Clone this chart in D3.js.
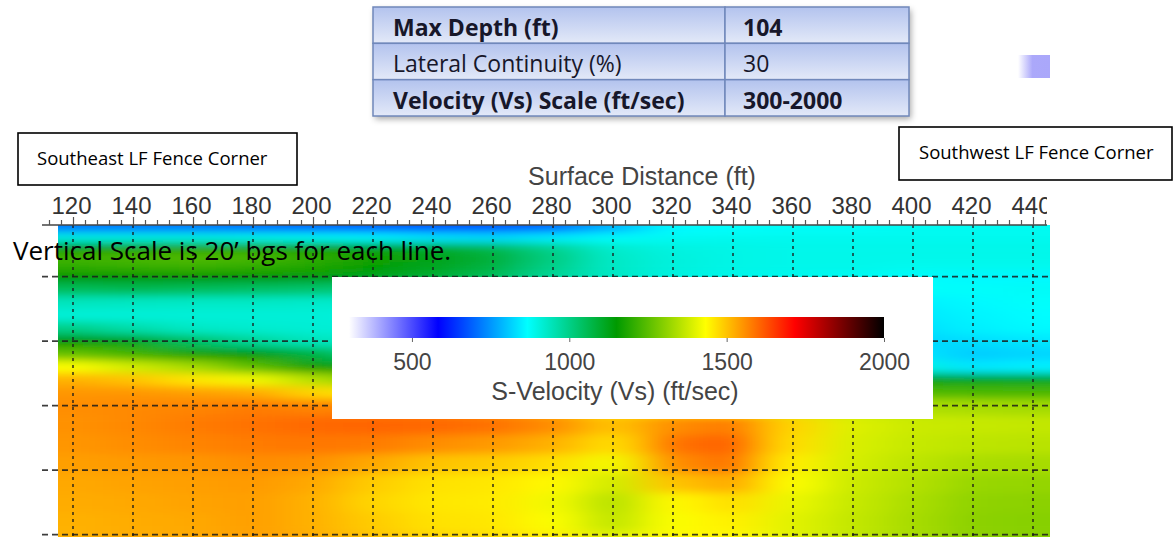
<!DOCTYPE html>
<html>
<head>
<meta charset="utf-8">
<script src="https://cdn.jsdelivr.net/npm/d3@7"></script>
<style>
  html, body { margin: 0; padding: 0; background: #fff; }
  svg { display: block; }
</style>
</head>
<body>
<div id="chart"></div>
<script>
// ---------- data ----------
var distanceTicks = [120, 140, 160, 180, 200, 220, 240, 260, 280, 300, 320, 340, 360, 380, 400, 420, 440];
var depthLines = [20, 40, 60, 80, 100];
var legendTicks = [500, 1000, 1500, 2000];
var colorStops = [300, 583, 867, 1150, 1433, 1717, 2000];
var colorRamp = ["#ffffff", "#0000ff", "#00ffff", "#009a00", "#ffff00", "#ff0000", "#000000"];

var tableLabels = ["Max Depth (ft)", "Lateral Continuity (%)", "Velocity (Vs) Scale (ft/sec)"];
var tableValues = ["104", "30", "300-2000"];
var tableBold = [true, false, true];

// velocity model: columns = distance (ft), rows = depth (ft)
var gridDistance = [120, 140, 160, 180, 200, 220, 240, 260, 280, 300, 320, 340, 360, 380, 400, 420, 440];
var gridDepth = [5, 8, 11, 14, 17, 20, 24, 28, 32, 36, 40, 44, 48, 52, 56, 60, 66, 72, 78, 84, 90, 96, 102];
var velocity = [
  [720, 720, 720, 710, 700, 690, 680, 680, 700, 780, 860, 870, 875, 875, 880, 880, 880],
  [900, 900, 900, 890, 880, 860, 840, 830, 850, 870, 880, 885, 885, 885, 885, 885, 885],
  [1150, 1160, 1170, 1170, 1160, 1140, 1100, 1060, 990, 920, 900, 895, 890, 890, 890, 890, 890],
  [1220, 1230, 1240, 1230, 1200, 1170, 1130, 1090, 1010, 930, 905, 895, 890, 890, 890, 890, 890],
  [1200, 1210, 1215, 1200, 1180, 1155, 1120, 1080, 1000, 930, 905, 895, 890, 890, 885, 885, 885],
  [1150, 1150, 1150, 1150, 1140, 1120, 1090, 1050, 980, 930, 900, 890, 885, 880, 870, 860, 860],
  [1050, 1060, 1050, 1040, 1030, 1010, 990, 970, 950, 930, 910, 900, 890, 880, 870, 870, 875],
  [940, 935, 930, 930, 925, 920, 915, 910, 900, 890, 880, 870, 860, 855, 850, 860, 870],
  [910, 910, 910, 910, 910, 905, 900, 895, 890, 880, 870, 860, 850, 845, 840, 855, 865],
  [1000, 960, 930, 920, 915, 910, 905, 900, 890, 880, 870, 855, 845, 835, 830, 850, 860],
  [1150, 1120, 1040, 980, 940, 930, 920, 910, 900, 890, 870, 855, 840, 830, 820, 830, 840],
  [1260, 1220, 1170, 1150, 1080, 1000, 960, 940, 920, 905, 890, 880, 870, 860, 840, 810, 820],
  [1430, 1380, 1330, 1250, 1160, 1140, 1120, 1100, 1080, 1040, 1000, 980, 960, 940, 900, 840, 850],
  [1520, 1500, 1460, 1420, 1350, 1280, 1250, 1230, 1220, 1200, 1180, 1170, 1160, 1150, 1130, 1120, 1110],
  [1550, 1550, 1540, 1530, 1480, 1450, 1420, 1400, 1380, 1340, 1320, 1300, 1280, 1260, 1240, 1230, 1230],
  [1560, 1565, 1570, 1580, 1570, 1570, 1560, 1540, 1510, 1450, 1450, 1430, 1360, 1345, 1340, 1335, 1330],
  [1555, 1565, 1580, 1590, 1600, 1605, 1600, 1590, 1560, 1500, 1560, 1580, 1480, 1395, 1375, 1370, 1365],
  [1550, 1560, 1570, 1580, 1585, 1580, 1560, 1545, 1520, 1470, 1590, 1610, 1470, 1390, 1370, 1360, 1355],
  [1540, 1545, 1550, 1560, 1555, 1530, 1500, 1490, 1470, 1420, 1560, 1590, 1450, 1385, 1360, 1340, 1335],
  [1530, 1535, 1540, 1545, 1530, 1490, 1465, 1460, 1440, 1380, 1500, 1530, 1430, 1375, 1350, 1320, 1315],
  [1525, 1530, 1535, 1540, 1520, 1480, 1460, 1455, 1420, 1350, 1440, 1470, 1410, 1370, 1340, 1310, 1305],
  [1520, 1525, 1530, 1540, 1520, 1490, 1465, 1460, 1430, 1360, 1430, 1450, 1400, 1365, 1335, 1305, 1300],
  [1520, 1525, 1530, 1540, 1525, 1500, 1480, 1470, 1450, 1400, 1440, 1440, 1400, 1365, 1335, 1305, 1300]
];

// ---------- chart ----------
var w = 1173, h = 537;
var plotLeft = 58, plotRight = 1050, plotTop = 225, plotBottom = 548;

var svg = d3.select("#chart").append("svg").attr("width", w).attr("height", h);
var defs = svg.append("defs");

var x = d3.scaleLinear().domain([120, 440]).range([73, 1033]);
var y = d3.scaleLinear().domain([4, 104]).range([225, 547.5]);
var color = d3.scaleLinear().domain(colorStops).range(colorRamp).clamp(true);

defs.append("clipPath").attr("id", "plotClip")
    .append("rect").attr("x", plotLeft).attr("y", plotTop)
    .attr("width", plotRight - plotLeft).attr("height", plotBottom - plotTop);
defs.append("clipPath").attr("id", "axisClip")
    .append("rect").attr("x", 0).attr("y", 195).attr("width", 1047).attr("height", h);

var smooth = defs.append("filter").attr("id", "smooth")
    .attr("filterUnits", "userSpaceOnUse")
    .attr("x", -300).attr("y", 100).attr("width", 1700).attr("height", 600);
smooth.append("feGaussianBlur").attr("stdDeviation", "22 4");

// cell edges half way between the grid nodes, outer ones pushed past the clip
function edges(c, pad) {
    var e = [c[0] - pad];
    for (var i = 1; i < c.length; i++) e.push((c[i - 1] + c[i]) / 2);
    e.push(c[c.length - 1] + pad);
    return e;
}
var xEdges = edges(gridDistance, 40);
var dEdges = edges(gridDepth, 15);

var cells = [];
velocity.forEach(function(row, i) {
    row.forEach(function(v, j) {
        cells.push({ i: i, j: j, v: v });
    });
});

var field = svg.append("g").attr("clip-path", "url(#plotClip)")
    .append("g").attr("filter", "url(#smooth)");
field.selectAll("rect")
    .data(cells)
    .enter()
    .append("rect")
    .attr("x", function(d) { return x(xEdges[d.j]); })
    .attr("y", function(d) { return y(dEdges[d.i]); })
    .attr("width", function(d) { return x(xEdges[d.j + 1]) - x(xEdges[d.j]) + 0.5; })
    .attr("height", function(d) { return y(dEdges[d.i + 1]) - y(dEdges[d.i]) + 0.5; })
    .attr("fill", function(d) { return color(d.v); });

// dashed grid
var grid = svg.append("g");
grid.selectAll(".vline")
    .data(distanceTicks)
    .enter()
    .append("line")
    .attr("x1", function(d) { return x(d); })
    .attr("x2", function(d) { return x(d); })
    .attr("y1", plotTop)
    .attr("y2", plotBottom)
    .attr("stroke", "#1c1c1c")
    .attr("stroke-width", 1.6)
    .attr("stroke-dasharray", "3,4")
    .attr("opacity", 0.85);
grid.selectAll(".hline")
    .data(depthLines)
    .enter()
    .append("line")
    .attr("x1", 42)
    .attr("x2", plotRight)
    .attr("y1", function(d) { return y(d); })
    .attr("y2", function(d) { return y(d); })
    .attr("stroke", "#1c1c1c")
    .attr("stroke-width", 1.6)
    .attr("stroke-dasharray", "6,4")
    .attr("opacity", 0.85);

// top axis
var minorTicks = d3.range(112, 448, 4).filter(function(d) { return (d - 120) % 20 !== 0; });
var axisG = svg.append("g").attr("clip-path", "url(#axisClip)");
axisG.append("line")
    .attr("x1", 42).attr("x2", plotRight).attr("y1", plotTop).attr("y2", plotTop)
    .attr("stroke", "#444").attr("stroke-width", 1.5);
var minorAxis = axisG.append("g")
    .attr("transform", "translate(0," + plotTop + ")")
    .call(d3.axisTop(x).tickValues(minorTicks).tickSize(5).tickSizeOuter(0).tickFormat(""));
var majorAxis = axisG.append("g")
    .attr("transform", "translate(0," + plotTop + ")")
    .call(d3.axisTop(x).tickValues(distanceTicks).tickSize(8).tickSizeOuter(0).tickPadding(3).tickFormat(d3.format("d")));
axisG.selectAll(".domain").remove();
axisG.selectAll(".tick line").attr("stroke", "#555").attr("stroke-width", 1.2);
majorAxis.selectAll("text")
    .attr("dx", -2)
    .attr("font-family", "'Liberation Sans', Arial, sans-serif")
    .attr("font-size", 24)
    .attr("fill", "#333");

svg.append("text")
    .attr("x", 642)
    .attr("y", 185)
    .attr("text-anchor", "middle")
    .attr("font-family", "'Liberation Sans', Arial, sans-serif")
    .attr("font-size", 25)
    .attr("fill", "#444")
    .text("Surface Distance (ft)");

// note over the plot
svg.append("text")
    .attr("x", 13)
    .attr("y", 260)
    .attr("font-family", "'Open Sans', Lato, sans-serif")
    .attr("font-size", 26)
    .attr("fill", "#000")
    .text("Vertical Scale is 20\u2019 bgs for each line.");

// colour legend
var legend = svg.append("g");
legend.append("rect")
    .attr("x", 332).attr("y", 277).attr("width", 601).attr("height", 142)
    .attr("fill", "#fff");
var lx = d3.scaleLinear().domain([300, 2000]).range([349, 884]);
var grad = defs.append("linearGradient").attr("id", "vsRamp");
grad.selectAll("stop")
    .data(colorStops)
    .enter()
    .append("stop")
    .attr("offset", function(d) { return (d - 300) / 1700; })
    .attr("stop-color", function(d, i) { return colorRamp[i]; });
legend.append("rect")
    .attr("x", lx(300)).attr("y", 317)
    .attr("width", lx(2000) - lx(300)).attr("height", 21)
    .attr("fill", "url(#vsRamp)");
var legAxis = legend.append("g")
    .attr("transform", "translate(0,338)")
    .call(d3.axisBottom(lx).tickValues(legendTicks).tickSize(4).tickSizeOuter(0).tickPadding(12).tickFormat(d3.format("d")));
legAxis.select(".domain").remove();
legAxis.selectAll(".tick line").attr("stroke", "#666");
legAxis.selectAll("text")
    .attr("font-family", "'Liberation Sans', Arial, sans-serif")
    .attr("font-size", 23)
    .attr("fill", "#444");
legend.append("text")
    .attr("x", 615)
    .attr("y", 400)
    .attr("text-anchor", "middle")
    .attr("font-family", "'Liberation Sans', Arial, sans-serif")
    .attr("font-size", 25)
    .attr("fill", "#444")
    .text("S-Velocity (Vs) (ft/sec)");

// corner labels
function cornerBox(bx, by, bw, bh, tx, ty, label) {
    svg.append("rect")
        .attr("x", bx).attr("y", by).attr("width", bw).attr("height", bh)
        .attr("fill", "#fff").attr("stroke", "#000").attr("stroke-width", 1.6);
    svg.append("text")
        .attr("x", tx).attr("y", ty)
        .attr("font-family", "'Open Sans', Lato, sans-serif")
        .attr("font-size", 18.5)
        .attr("fill", "#000")
        .text(label);
}
cornerBox(18, 133, 279, 52, 37, 165, "Southeast LF Fence Corner");
cornerBox(899, 127, 273, 53, 919, 159, "Southwest LF Fence Corner");

// parameter table
var shadow = defs.append("filter").attr("id", "shadow")
    .attr("x", "-5%").attr("y", "-10%").attr("width", "112%").attr("height", "130%");
shadow.append("feDropShadow").attr("dx", 2).attr("dy", 3).attr("stdDeviation", 3)
    .attr("flood-color", "#000").attr("flood-opacity", 0.35);
var cellGrad = defs.append("linearGradient").attr("id", "cellFill")
    .attr("x1", 0).attr("y1", 0).attr("x2", 0).attr("y2", 1);
cellGrad.append("stop").attr("offset", 0).attr("stop-color", "#b3c3ee");
cellGrad.append("stop").attr("offset", 1).attr("stop-color", "#e3e9f8");

var tx0 = 373, tx1 = 909, tSplit = 725;
var ty = d3.scaleBand().domain(d3.range(tableLabels.length)).range([7, 116]);
var table = svg.append("g");
table.append("rect")
    .attr("x", tx0).attr("y", ty.range()[0]).attr("width", tx1 - tx0).attr("height", 109)
    .attr("fill", "#dfe6f7").attr("filter", "url(#shadow)");
var rows = table.selectAll(".row")
    .data(tableLabels)
    .enter()
    .append("g");
rows.append("rect")
    .attr("x", tx0).attr("y", function(d, i) { return ty(i); })
    .attr("width", tSplit - tx0).attr("height", ty.bandwidth())
    .attr("fill", "url(#cellFill)").attr("stroke", "#7088bb").attr("stroke-width", 1.5);
rows.append("rect")
    .attr("x", tSplit).attr("y", function(d, i) { return ty(i); })
    .attr("width", tx1 - tSplit).attr("height", ty.bandwidth())
    .attr("fill", "url(#cellFill)").attr("stroke", "#7088bb").attr("stroke-width", 1.5);
rows.append("text")
    .attr("x", 393).attr("y", function(d, i) { return ty(i) + 29; })
    .attr("font-family", "'Open Sans', Lato, sans-serif")
    .attr("font-size", 23)
    .attr("font-weight", function(d, i) { return tableBold[i] ? "bold" : "normal"; })
    .attr("fill", "#17172a")
    .text(function(d) { return d; });
rows.append("text")
    .attr("x", 743).attr("y", function(d, i) { return ty(i) + 29; })
    .attr("font-family", "'Open Sans', Lato, sans-serif")
    .attr("font-size", 23)
    .attr("font-weight", function(d, i) { return tableBold[i] ? "bold" : "normal"; })
    .attr("fill", "#17172a")
    .text(function(d, i) { return tableValues[i]; });

// small lavender swatch at the right
var sw = defs.append("linearGradient").attr("id", "swatch");
sw.append("stop").attr("offset", 0).attr("stop-color", "#ffffff");
sw.append("stop").attr("offset", 0.45).attr("stop-color", "#aba8fa");
sw.append("stop").attr("offset", 1).attr("stop-color", "#aaa7fa");
svg.append("rect")
    .attr("x", 1018).attr("y", 55).attr("width", 32).attr("height", 23)
    .attr("fill", "url(#swatch)");
</script>
</body>
</html>
